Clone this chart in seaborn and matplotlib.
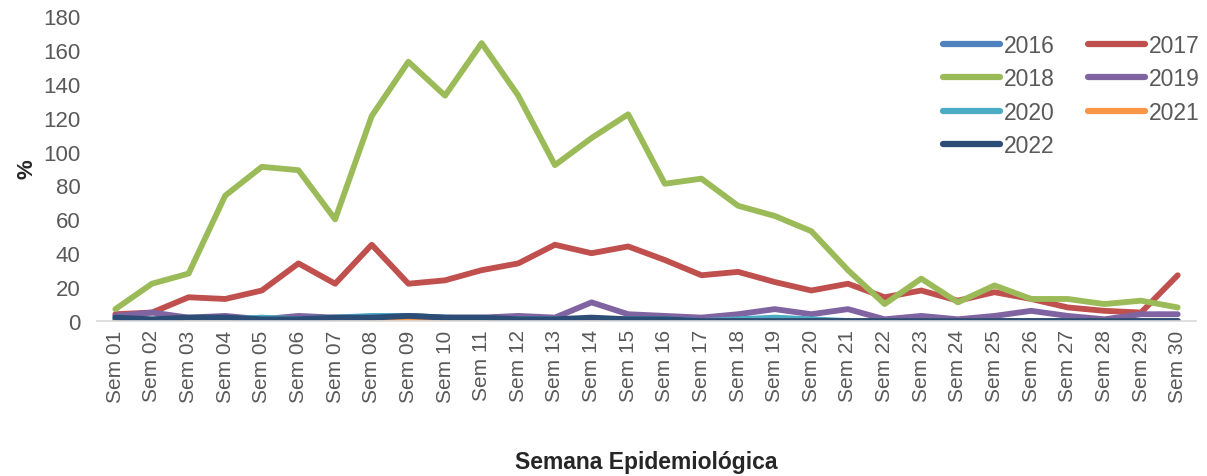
import matplotlib
matplotlib.use("Agg")
import matplotlib.pyplot as plt
import seaborn as sns
import pandas as pd

# Semanas epidemiológicas
semanas = ["Sem %02d" % i for i in range(1, 31)]

y2016 = [0, 0, 0, 0, 0, 0, 0, 0, 0, 0, 0, 0, 0, 0, 0, 0, 0, 0, 0, 0,
         0, 0, 0, 0, 0, 0, 0, 0, 0, 0]
y2017 = [4, 5, 14, 13, 18, 34, 22, 45, 22, 24, 30, 34, 45, 40, 44, 36, 27, 29, 23, 18,
         22, 14, 18, 12, 17, 13, 8, 6, 5, 27]
y2018 = [7, 22, 28, 74, 91, 89, 60, 121, 153, 133, 164, 133, 92, 108, 122, 81, 84, 68, 62, 53,
         30, 10, 25, 11, 21, 13, 13, 10, 12, 8]
y2019 = [3, 5, 2, 3, 1, 3, 2, 2, 3, 2, 2, 3, 2, 11, 4, 3, 2, 4, 7, 4,
         7, 1, 3, 1, 3, 6, 3, 1, 4, 4]
y2020 = [1, 0, 1, 1, 2, 1, 2, 3, 3, 2, 1, 1, 1, 1, 1, 1, 0, 1, 2, 1,
         0, 0, 0, 0, 0, 0, 0, 0, 0, 0]
y2021 = [0, 0, 0, 0, 0, 0, 0, 0, 0.5, 0, 0, 0, 0, 0, 0, 0, 0, 0, 0, 0,
         0, 0, 0, 0, 0, 0, 0, 0, 0, 0]
y2022 = [2, 1, 2, 2, 1, 1, 2, 2, 3, 2, 2, 1, 1, 2, 1, 1, 0, 0, 0, 0,
         0, 0, 0, 0, 0, 0, 0, 0, 0, 0]

series = {"2016": y2016, "2017": y2017, "2018": y2018, "2019": y2019,
          "2020": y2020, "2021": y2021, "2022": y2022}
colores = ["#4F81BD", "#C0504D", "#9BBB59", "#8064A2", "#4BACC6", "#F79646", "#2C4D75"]

df = pd.concat([pd.DataFrame({"semana": semanas, "valor": v, "anio": k})
                for k, v in series.items()], ignore_index=True)

sns.set_style("white")
plt.rcParams['font.family'] = ['Liberation Sans', 'DejaVu Sans']

fig = plt.figure(figsize=(12.07, 4.77), dpi=100)
ax = fig.add_axes([97 / 1207, 1 - 322 / 477, (1196 - 97) / 1207, (322 - 17) / 477])

sns.lineplot(data=df, x="semana", y="valor", hue="anio", palette=colores,
             linewidth=4.2, ax=ax, sort=False, legend=True)
for ln in ax.get_lines():
    ln.set_solid_capstyle("round")
    ln.set_solid_joinstyle("round")

ax.set_xlim(-0.5, 29.5)
ax.set_ylim(0, 180)
ax.set_yticks(range(0, 181, 20))
ax.tick_params(axis="y", labelsize=16, colors="#595959", length=0, pad=12)
ax.tick_params(axis="x", labelsize=15, colors="#595959", length=0, rotation=90, pad=6)
for s in ["top", "right", "left"]:
    ax.spines[s].set_visible(False)
ax.spines["bottom"].set_color("#D9D9D9")
ax.spines["bottom"].set_linewidth(1.2)

ax.set_ylabel("%", fontsize=16, fontweight="bold", labelpad=4)
ax.set_xlabel("")
fig.text((97 + 1196) / 2 / 1207, 1 - 463 / 477, "Semana Epidemiológica",
         ha="center", va="center", fontsize=16.5, fontweight="bold")

# legend filled row by row, like the original
handles, labels = ax.get_legend_handles_labels()
orden = [0, 2, 4, 6, 1, 3, 5]
leg = ax.legend([handles[i] for i in orden], [labels[i] for i in orden],
                ncol=2, loc="upper right", bbox_to_anchor=(1.022, 1.01), frameon=False,
                fontsize=16.5, handlelength=2.5, handletextpad=0.15, columnspacing=1.45,
                labelspacing=0.46, labelcolor="#595959")
for h in leg.get_lines():
    h.set_linewidth(4.5)

fig.savefig("out.png", dpi=100)
